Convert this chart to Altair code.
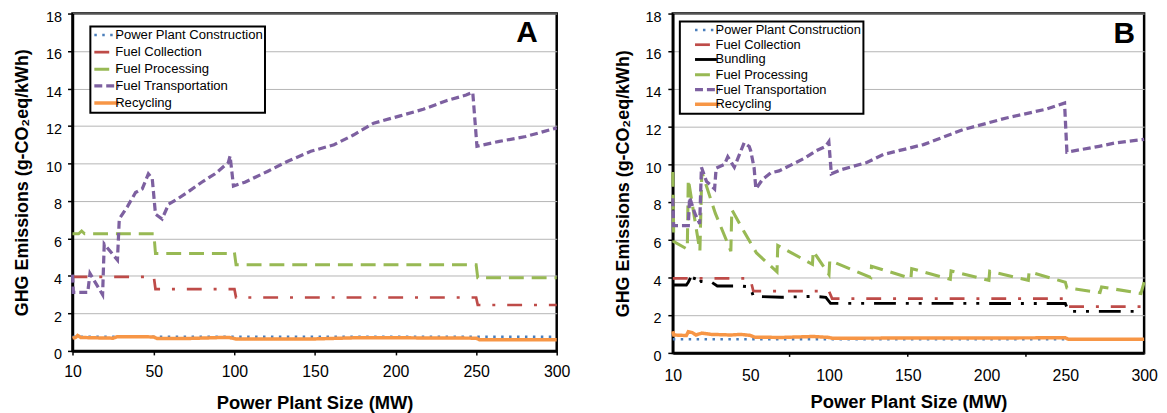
import altair as alt
import pandas as pd

FONT = "Liberation Sans"

# ---------------- axis labels / ticks ----------------
x_label_values = [10, 50, 100, 150, 200, 250, 300]
y_tick_values = [0, 2, 4, 6, 8, 10, 12, 14, 16, 18]
b_minor_tick_values = [75, 150, 225]

series_a = ["Power Plant Construction", "Fuel Collection", "Fuel Processing",
            "Fuel Transportation", "Recycling"]
series_b = ["Power Plant Construction", "Fuel Collection", "Bundling", "Fuel Processing",
            "Fuel Transportation", "Recycling"]

# ---------------- Panel A data ----------------
a_ppc_x = [10, 300]
a_ppc_y = [0.75, 0.75]

a_fc_x = [10, 50, 51, 100, 101, 250, 251, 300]
a_fc_y = [3.95, 3.95, 3.3, 3.3, 2.85, 2.85, 2.45, 2.45]

a_fp_x = [10, 13, 14.5, 16, 50, 51, 99, 100, 101, 250, 251, 300]
a_fp_y = [6.25, 6.25, 6.4, 6.25, 6.25, 5.2, 5.2, 5.25, 4.6, 4.6, 3.9, 3.9]

a_ft_x = [10, 10.4, 17.5, 18.6, 24.8, 25.6, 32.1, 33, 37, 41, 44.3, 47.3, 49.2, 51, 55.1,
          59.2, 65.4, 71.5, 79.7, 88, 96.2, 97.3, 99.4, 106.5, 120.8, 133.1, 147.4, 161.8,
          174.1, 186.4, 202.8, 217.2, 231.5, 243.8, 247.9, 250.5, 264.4, 280.8, 297.2, 300]
a_ft_y = [4.07, 3.12, 3.12, 4.13, 3.0, 5.7, 4.85, 7.04, 7.7, 8.45, 8.65, 9.45, 9.2, 7.3, 7.04,
          7.83, 8.15, 8.5, 9.0, 9.45, 10.05, 10.4, 8.8, 9.0, 9.59, 10.12, 10.65, 11.0,
          11.53, 12.15, 12.54, 12.89, 13.35, 13.65, 13.8, 10.92, 11.18, 11.44, 11.83, 11.9]

a_rec_x = [10, 11.5, 12.5, 14, 20, 30, 32, 45, 50, 52, 70, 90, 97, 101, 150, 175, 200, 250, 252, 300]
a_rec_y = [0.68, 0.72, 0.82, 0.72, 0.7, 0.68, 0.76, 0.76, 0.74, 0.66, 0.66, 0.71, 0.71, 0.64,
           0.64, 0.7, 0.7, 0.68, 0.6, 0.6]

# ---------------- Panel B data ----------------
b_ppc_x = [10, 300]
b_ppc_y = [0.72, 0.72]

b_fc_x = [10, 50, 52, 100, 102, 250, 252, 300]
b_fc_y = [3.95, 3.95, 3.28, 3.28, 2.88, 2.88, 2.45, 2.45]

b_bun_x = [10, 17, 18, 19.5, 20.5, 21.5, 23, 24.5, 27, 30, 33, 45, 50, 52, 70, 90, 98, 101,
           250, 252, 300]
b_bun_y = [3.6, 3.6, 3.75, 4.05, 3.75, 4.05, 3.7, 3.8, 3.75, 3.75, 3.55, 3.55, 3.5, 3.0, 2.95,
           3.0, 2.95, 2.63, 2.62, 2.2, 2.2]

b_fp_x = [10, 10.5, 17.5, 18, 24, 25, 32, 40, 40.5, 47, 54, 67, 67.5, 89.5, 90, 100, 100.5,
          126.5, 127, 152, 152.5, 177, 177.5, 201.5, 202, 226.5, 227, 250, 251, 272, 273, 298, 300]
b_fp_y = [9.6, 5.9, 5.5, 9.2, 5.4, 9.6, 7.4, 5.4, 7.6, 6.4, 5.3, 4.3, 5.7, 4.7, 5.4, 4.15, 4.9,
          4.0, 4.6, 3.95, 4.47, 3.9, 4.35, 3.85, 4.33, 3.85, 4.3, 3.75, 3.45, 3.2, 3.5, 3.15, 3.75]

b_ft_x = [10, 10.4, 18, 18.7, 21.4, 23.9, 24.8, 27.4, 31.6, 32.4, 36.7, 38.4, 41.8, 46.9, 49.5,
          50.4, 52.5, 53.6, 57.8, 63, 68.3, 76.7, 85, 91.4, 97.8, 99.9, 101.5, 107, 124, 134.7,
          160, 185, 212.6, 237.9, 249.5, 251, 261, 271.4, 282, 300]
b_ft_y = [8.2, 6.75, 6.75, 8.25, 7.4, 6.85, 9.85, 9.1, 8.7, 9.8, 10.0, 10.4, 9.85, 11.15, 10.95,
          10.7, 9.8, 8.7, 9.2, 9.55, 9.65, 10.0, 10.35, 10.7, 10.95, 11.2, 9.5, 9.7, 10.1, 10.53,
          11.05, 11.84, 12.46, 12.93, 13.25, 10.65, 10.8, 10.96, 11.14, 11.33]

b_rec_x = [10, 10.5, 17, 18, 20, 22, 25, 30, 40, 45, 50, 53, 70, 90, 100, 102, 250, 252, 300]
b_rec_y = [1.15, 0.95, 0.92, 1.12, 1.08, 0.95, 1.05, 0.98, 0.95, 0.98, 0.93, 0.83, 0.82, 0.87,
           0.82, 0.78, 0.8, 0.72, 0.72]

# ---------------- styles ----------------
COLORS = {"Power Plant Construction": "#4A7EBB", "Fuel Collection": "#BE4B48",
          "Bundling": "#000000", "Fuel Processing": "#98B954",
          "Fuel Transportation": "#7D60A0", "Recycling": "#F79646"}
DASHES = {"Power Plant Construction": [2.5, 5.5], "Fuel Collection": [15, 12, 3, 12],
          "Bundling": [22, 10, 3, 10, 3, 10], "Fuel Processing": [15, 8],
          "Fuel Transportation": [8, 4], "Recycling": [1, 0]}
WIDTHS = {"Power Plant Construction": 2.5, "Fuel Collection": 3.5, "Bundling": 3,
          "Fuel Processing": 3.5, "Fuel Transportation": 4, "Recycling": 4}


def make_df(order, xs, ys):
    rows = []
    for s in order:
        for xv, yv in zip(xs[s], ys[s]):
            rows.append({"series": s, "mw": xv, "ghg": yv})
    return pd.DataFrame(rows)


def build_panel(df, order, width, height, mid_px, legend_kw, label, label_pos,
                x_axis_kw, y_axis_kw, minor_ticks=None):
    xs = alt.Scale(domain=[10, 50, 300], range=[0, mid_px, width], nice=False, zero=False)
    ys = alt.Scale(domain=[0, 18], nice=False, zero=False)
    legend = alt.Legend(**legend_kw)
    lines = alt.Chart(df).mark_line(interpolate="linear").encode(
        x=alt.X("mw:Q", scale=xs, axis=alt.Axis(**x_axis_kw)),
        y=alt.Y("ghg:Q", scale=ys, axis=alt.Axis(**y_axis_kw)),
        color=alt.Color("series:N", scale=alt.Scale(domain=order, range=[COLORS[s] for s in order]),
                        legend=legend),
        strokeDash=alt.StrokeDash("series:N",
                                  scale=alt.Scale(domain=order, range=[DASHES[s] for s in order]),
                                  legend=legend),
        strokeWidth=alt.StrokeWidth("series:N",
                                    scale=alt.Scale(domain=order, range=[WIDTHS[s] for s in order]),
                                    legend=legend),
    )
    txt = alt.Chart(pd.DataFrame({"t": [label]})).mark_text(
        font=FONT, fontSize=30, fontWeight="bold", align="center", baseline="middle",
        color="black").encode(text="t:N", x=alt.value(label_pos[0]), y=alt.value(label_pos[1]))
    layers = [lines, txt]
    if minor_ticks is not None:
        tk = alt.Chart(pd.DataFrame({"mw": minor_ticks})).mark_rule(
            color="black", strokeWidth=1.5).encode(
            x=alt.X("mw:Q", scale=xs, axis=alt.Axis(**x_axis_kw)),
            y=alt.value(height), y2=alt.value(height + 4))
        layers.append(tk)
    return alt.layer(*layers).properties(width=width, height=height)


df_a = make_df(series_a,
               {"Power Plant Construction": a_ppc_x, "Fuel Collection": a_fc_x,
                "Fuel Processing": a_fp_x, "Fuel Transportation": a_ft_x, "Recycling": a_rec_x},
               {"Power Plant Construction": a_ppc_y, "Fuel Collection": a_fc_y,
                "Fuel Processing": a_fp_y, "Fuel Transportation": a_ft_y, "Recycling": a_rec_y})
df_b = make_df(series_b,
               {"Power Plant Construction": b_ppc_x, "Fuel Collection": b_fc_x,
                "Bundling": b_bun_x, "Fuel Processing": b_fp_x,
                "Fuel Transportation": b_ft_x, "Recycling": b_rec_x},
               {"Power Plant Construction": b_ppc_y, "Fuel Collection": b_fc_y,
                "Bundling": b_bun_y, "Fuel Processing": b_fp_y,
                "Fuel Transportation": b_ft_y, "Recycling": b_rec_y})

Y_TITLE = "GHG Emissions (g-CO\u2082eq/kWh)"
X_TITLE = "Power Plant Size (MW)"

common_y = dict(values=y_tick_values, title=Y_TITLE, titleFontSize=18, titleFontWeight="bold",
                labelFontSize=14.5, tickSize=5, grid=True, labelBaseline="top", labelOffset=-3.3)
common_x = dict(values=x_label_values, title=X_TITLE, titleFontSize=18.5, titleFontWeight="bold",
                labelFontSize=16, grid=False, labelFlush=False)

legend_common = dict(title=None, orient="none", symbolSize=100, labelFont=FONT, labelColor="black",
                     labelLimit=400, strokeColor="black", fillColor="white")

panel_a = build_panel(
    df_a, series_a, 488, 340, 82,
    dict(legend_common, legendX=18, legendY=13, padding=2, rowPadding=3.3,
         symbolType="M-1,0H4", labelOffset=9, labelFontSize=13.2),
    "A", (458, 20),
    dict(common_x, tickSize=4, labelPadding=9, titlePadding=14),
    dict(common_y, labelPadding=6, titlePadding=14),
)
panel_b = build_panel(
    df_b, series_b, 475, 342, 78,
    dict(legend_common, legendX=7.1, legendY=8, padding=2, rowPadding=0.9,
         symbolType="M1.26,0H6.26", labelOffset=20, labelFontSize=13),
    "B", (455, 21),
    dict(common_x, tickSize=0, labelPadding=15, titlePadding=9),
    dict(common_y, labelPadding=7, titlePadding=13),
    minor_ticks=b_minor_tick_values,
)


def assemble(legend_border, top_pad):
    ch = alt.hconcat(panel_a, panel_b, spacing=41).resolve_scale(
        x="independent", y="independent", color="independent",
        strokeDash="independent", strokeWidth="independent",
    ).properties(
        padding={"left": 4, "top": top_pad, "right": 0, "bottom": 0}
    ).configure_view(stroke="black", strokeWidth=2.5).configure_axis(
        labelFont=FONT, titleFont=FONT, labelColor="black", titleColor="black",
        domainColor="black", domainWidth=2.5, tickColor="black", tickWidth=1.5,
        gridColor="#b5b5b5", gridWidth=1,
    )
    if legend_border:
        ch = ch.configure_legend(strokeWidth=2)
    return ch


chart = None
for lb, tp in [(True, -2), (False, -2), (True, 0), (False, 0)]:
    try:
        c = assemble(lb, tp)
        c.to_dict()
        chart = c
        break
    except Exception:
        continue

chart.save("out.html", embed_options={"renderer": "svg", "actions": False})
